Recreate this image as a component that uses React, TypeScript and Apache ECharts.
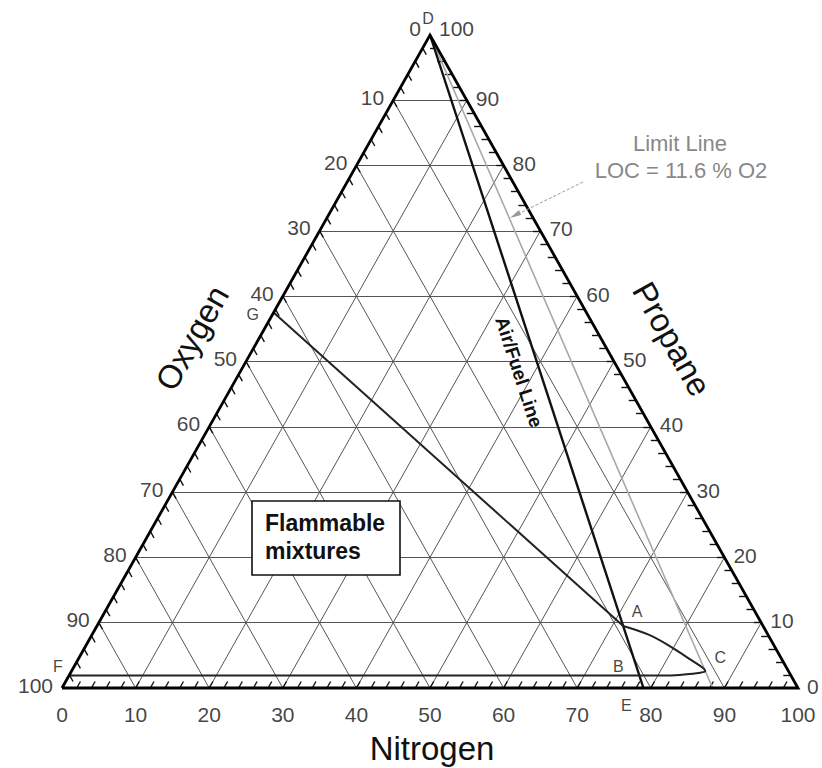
import React, { useEffect, useRef } from 'react';
import * as echarts from 'echarts';

// ---- axis tick values / labels ----
const MAJOR_VALUES = [10, 20, 30, 40, 50, 60, 70, 80, 90];
const LABEL_VALUES = [0, 10, 20, 30, 40, 50, 60, 70, 80, 90, 100];
const nitrogenTickLabels = ['0', '10', '20', '30', '40', '50', '60', '70', '80', '90', '100'];
const oxygenTickLabels = ['0', '10', '20', '30', '40', '50', '60', '70', '80', '90', '100'];
const propaneTickLabels = ['0', '10', '20', '30', '40', '50', '60', '70', '80', '90', '100'];

// ---- data lines (percent O2, percent propane; N2 = rest) ----
const airFuelO2 = [0, 21];
const airFuelP = [100, 0];

const limitO2 = [0, 11.6];
const limitP = [100, 0];

const envelopeUpperO2 = [42.5, 19.0];
const envelopeUpperP = [57.5, 9.5];

const envelopeNoseO2 = [19.0, 16.1, 14.1, 12.4, 11.4, 11.3, 12.4, 16.3];
const envelopeNoseP = [9.5, 8.1, 6.3, 4.3, 3.1, 2.6, 2.3, 1.9];

const envelopeLowerO2 = [16.3, 98.1];
const envelopeLowerP = [1.9, 1.9];

// ---- labelled points ----
const pointLetters = ['D', 'G', 'F', 'A', 'B', 'C', 'E'];
const pointO2 = [0, 42.5, 98.1, 19.0, 20.6, 11.3, 21];
const pointP = [100, 57.5, 1.9, 9.5, 1.9, 2.6, 0];

const FONT = "'Liberation Sans', Arial, Helvetica, sans-serif";

// ternary (O2, P) -> cartesian (x in 0..100 along base, y = propane)
const cart = (o2: number, p: number): [number, number] => [100 - o2 - p / 2, p];

export default function App() {
  const ref = useRef<HTMLDivElement>(null);

  useEffect(() => {
    if (!ref.current) return;
    const chart = echarts.init(ref.current, undefined, { renderer: 'svg' });

    // gridlines
    const gridLines: any[] = [];
    MAJOR_VALUES.forEach((v) => {
      gridLines.push({ coords: [cart(100 - v, v), cart(0, v)] }); // propane const
      gridLines.push({ coords: [cart(v, 100 - v), cart(v, 0)] }); // oxygen const
      gridLines.push({ coords: [cart(100 - v, 0), cart(0, 100 - v)] }); // nitrogen const
    });

    // ticks every 2 units
    const ticks: any[] = [];
    for (let v = 2; v < 100; v += 2) {
      ticks.push({ coords: [cart(100 - v, 0), cart(99 - v, 1)] }); // bottom (N2)
      ticks.push({ coords: [cart(0, v), cart(1, v)] }); // right (propane)
      ticks.push({ coords: [cart(v, 100 - v), cart(v, 99 - v)] }); // left (O2)
    }

    const edges = [{ coords: [cart(100, 0), cart(0, 0), cart(0, 100), cart(100, 0)] }];

    const labelBase = {
      show: true,
      position: 'inside',
      fontFamily: FONT,
      fontSize: 21,
      color: '#111',
      verticalAlign: 'middle',
    };

    const nitrogenLabelData = LABEL_VALUES.map((v, i) => ({
      value: cart(100 - v, 0),
      label: { ...labelBase, formatter: nitrogenTickLabels[i], align: 'center', offset: [0, 26] },
    }));
    const oxygenLabelData = LABEL_VALUES.map((v, i) => ({
      value: cart(v, 100 - v),
      label: { ...labelBase, formatter: oxygenTickLabels[i], align: 'right', offset: [-9, v === 0 ? -7 : -3] },
    }));
    const propaneLabelData = LABEL_VALUES.map((v, i) => ({
      value: cart(0, v),
      label: { ...labelBase, formatter: propaneTickLabels[i], align: 'left', offset: [9, v === 100 ? -7 : -2] },
    }));

    const letterOffsets: Record<string, number[]> = {
      D: [-2, -17], G: [-21, 2], F: [-11, -9], A: [14, -14], B: [-21, -9], C: [15, -14], E: [-17, 17],
    };
    const letterData = pointLetters.map((l, i) => ({
      value: cart(pointO2[i], pointP[i]),
      label: { ...labelBase, fontSize: 16, formatter: l, align: 'center', offset: letterOffsets[l] },
    }));

    const toSeries = (o2: number[], p: number[]) => o2.map((o, i) => cart(o, p[i]));

    const scatterBase = {
      type: 'scatter',
      symbolSize: 1,
      itemStyle: { color: 'rgba(0,0,0,0)' },
      silent: true,
      z: 10,
    };

    const edgeAngle = Math.atan2(653, 368);
    const airAngle = Math.atan2(653, 213);

    chart.setOption({
      animation: false,
      backgroundColor: '#ffffff',
      grid: { left: 62, right: 24, top: 35, bottom: 80 },
      xAxis: { type: 'value', min: 0, max: 100, show: false },
      yAxis: { type: 'value', min: 0, max: 100, show: false },
      series: [
        {
          type: 'lines', coordinateSystem: 'cartesian2d', clip: false, silent: true,
          data: gridLines, lineStyle: { color: '#555', width: 1, opacity: 1 }, z: 1,
        },
        {
          type: 'lines', coordinateSystem: 'cartesian2d', clip: false, silent: true,
          data: ticks, lineStyle: { color: '#111', width: 1.4, opacity: 1 }, z: 2,
        },
        {
          type: 'line', clip: false, silent: true, symbol: 'none',
          data: toSeries(limitO2, limitP), lineStyle: { color: '#a8a8a8', width: 1.6 }, z: 3,
        },
        {
          type: 'line', clip: false, silent: true, symbol: 'none',
          data: toSeries(airFuelO2, airFuelP), lineStyle: { color: '#111', width: 2.4 }, z: 4,
        },
        {
          type: 'line', clip: false, silent: true, symbol: 'none',
          data: toSeries(envelopeUpperO2, envelopeUpperP), lineStyle: { color: '#222', width: 2 }, z: 4,
        },
        {
          type: 'line', clip: false, silent: true, symbol: 'none', smooth: 0.35,
          data: toSeries(envelopeNoseO2, envelopeNoseP), lineStyle: { color: '#222', width: 2 }, z: 4,
        },
        {
          type: 'line', clip: false, silent: true, symbol: 'none',
          data: toSeries(envelopeLowerO2, envelopeLowerP), lineStyle: { color: '#222', width: 2 }, z: 4,
        },
        {
          type: 'lines', coordinateSystem: 'cartesian2d', clip: false, silent: true, polyline: true,
          data: edges, lineStyle: { color: '#000', width: 2.8, opacity: 1 }, z: 5,
        },
        { ...scatterBase, data: nitrogenLabelData },
        { ...scatterBase, data: oxygenLabelData },
        { ...scatterBase, data: propaneLabelData },
        { ...scatterBase, data: letterData },
      ],
      graphic: [
        {
          type: 'text', x: 432, y: 748,
          style: { text: 'Nitrogen', fontFamily: FONT, fontSize: 33, fill: '#111', align: 'center', verticalAlign: 'middle' },
        },
        {
          type: 'text', x: 192, y: 338, rotation: edgeAngle,
          style: { text: 'Oxygen', fontFamily: FONT, fontSize: 33, fill: '#111', align: 'center', verticalAlign: 'middle' },
        },
        {
          type: 'text', x: 672, y: 339, rotation: -edgeAngle,
          style: { text: 'Propane', fontFamily: FONT, fontSize: 33, fill: '#111', align: 'center', verticalAlign: 'middle' },
        },
        {
          type: 'text', x: 519, y: 372, rotation: -airAngle, z: 20,
          style: { text: 'Air/Fuel Line', fontFamily: FONT, fontSize: 19, fontWeight: 'bold', fill: '#111', align: 'center', verticalAlign: 'middle' },
        },
        {
          type: 'rect', z: 20,
          shape: { x: 252, y: 501, width: 148, height: 74 },
          style: { fill: '#fff', stroke: '#111', lineWidth: 1.6 },
        },
        {
          type: 'text', x: 265, y: 523, z: 21,
          style: { text: 'Flammable', fontFamily: FONT, fontSize: 23, fontWeight: 'bold', fill: '#111', align: 'left', verticalAlign: 'middle' },
        },
        {
          type: 'text', x: 265, y: 551, z: 21,
          style: { text: 'mixtures', fontFamily: FONT, fontSize: 23, fontWeight: 'bold', fill: '#111', align: 'left', verticalAlign: 'middle' },
        },
        {
          type: 'text', x: 680, y: 143, z: 20,
          style: { text: 'Limit Line', fontFamily: FONT, fontSize: 22, fill: '#888', align: 'center', verticalAlign: 'middle' },
        },
        {
          type: 'text', x: 681, y: 170, z: 20,
          style: { text: 'LOC = 11.6 % O2', fontFamily: FONT, fontSize: 22, fill: '#888', align: 'center', verticalAlign: 'middle' },
        },
        {
          type: 'line', z: 20,
          shape: { x1: 583, y1: 182, x2: 512, y2: 217 },
          style: { stroke: '#999', lineWidth: 1, lineDash: [3, 2] },
        },
        {
          type: 'polygon', z: 20,
          shape: { points: [[510, 218], [519, 210], [521, 215]] },
          style: { fill: '#999' },
        },
      ],
    });

    return () => chart.dispose();
  }, []);

  return (
    <div
      ref={ref}
      style={{ position: 'absolute', left: 0, top: 0, width: 822, height: 768, background: '#fff' }}
    />
  );
}
